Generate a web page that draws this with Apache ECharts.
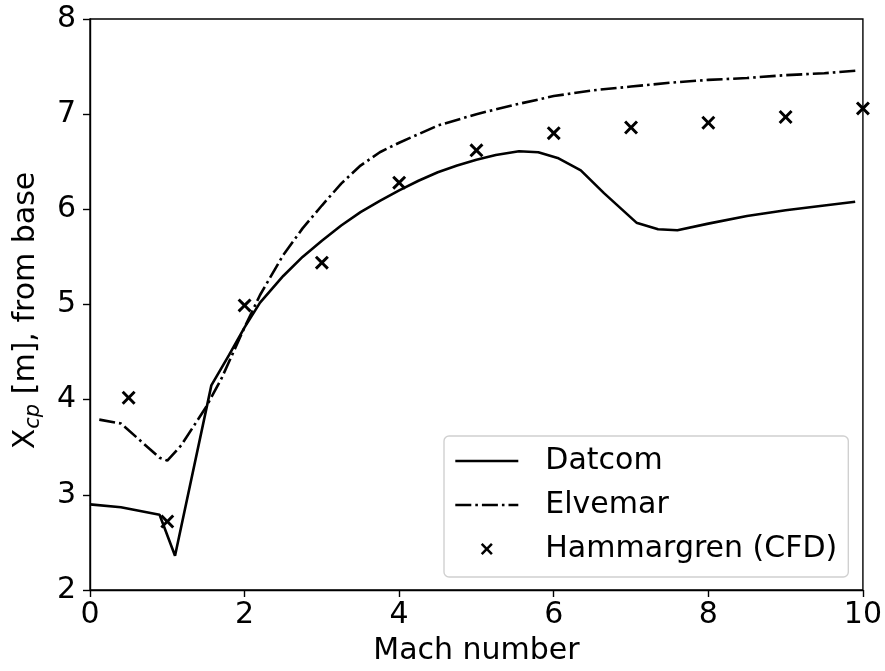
<!DOCTYPE html>
<html lang="en">
<head>
    <meta charset="UTF-8">
    <script src="https://cdn.jsdelivr.net/npm/echarts@6/dist/echarts.min.js"></script>
</head>
<body style="margin:0;">
<div id="xcpChart" style="width: 885px;height:671px;"></div>
<script type="text/javascript">

    // Mach number / Xcp pairs
    var datcom = [
        [0, 2.90], [0.4, 2.87], [0.9, 2.79], [1.1, 2.36], [1.57, 4.15],
        [1.8, 4.47], [2.0, 4.76], [2.2, 5.02], [2.5, 5.30], [2.75, 5.50],
        [3.0, 5.67], [3.25, 5.83], [3.5, 5.97], [3.75, 6.09], [4.0, 6.20],
        [4.25, 6.30], [4.5, 6.39], [4.75, 6.46], [5.0, 6.52], [5.25, 6.57],
        [5.55, 6.61], [5.8, 6.60], [6.05, 6.54], [6.35, 6.41], [6.65, 6.17],
        [7.07, 5.86], [7.35, 5.79], [7.6, 5.78], [8.0, 5.85], [8.5, 5.93],
        [9.0, 5.99], [9.5, 6.04], [9.9, 6.08]
    ];
    var elvemar = [
        [0.12, 3.79], [0.4, 3.75], [0.9, 3.39], [1.0, 3.36], [1.18, 3.52],
        [1.5, 3.92], [1.7, 4.22], [2.0, 4.76], [2.2, 5.10], [2.5, 5.52],
        [2.75, 5.80], [3.0, 6.04], [3.25, 6.27], [3.5, 6.46], [3.75, 6.60],
        [4.0, 6.70], [4.5, 6.88], [5.0, 7.00], [5.5, 7.10], [6.0, 7.19],
        [6.5, 7.25], [7.0, 7.29], [7.5, 7.33], [8.0, 7.36], [8.5, 7.38],
        [9.0, 7.41], [9.5, 7.43], [9.95, 7.46]
    ];
    var hammargren = [
        [0.5, 4.02], [1, 2.72], [2, 4.99], [3, 5.44], [4, 6.28], [5, 6.62],
        [6, 6.80], [7, 6.86], [8, 6.91], [9, 6.97], [10, 7.06]
    ];
    var seriesNames = ["Datcom", "Elvemar", "Hammargren (CFD)"];

    var crossMark = "path://M0,1.5L1.5,0L5,3.5L8.5,0L10,1.5L6.5,5L10,8.5L8.5,10L5,6.5L1.5,10L0,8.5L3.5,5Z";
    var font = "DejaVu Sans";
    var fs = 30;

    var chart = echarts.init(document.getElementById("xcpChart"));
    var option = {
        animation: false,
        textStyle: { fontFamily: font },
        grid: {
            left: 90, right: 22, top: 19, bottom: 78,
            show: true, borderColor: "#000", borderWidth: 1.4
        },
        legend: {
            orient: "vertical",
            left: 444, top: 436,
            data: [
                { name: seriesNames[0], itemStyle: { opacity: 0 } },
                { name: seriesNames[1], itemStyle: { opacity: 0 } },
                { name: seriesNames[2], icon: crossMark }
            ],
            itemWidth: 63, itemHeight: 12, itemGap: 14,
            padding: [10, 11, 13, 10],
            borderColor: "#d0d0d0", borderWidth: 1.4, borderRadius: 5,
            backgroundColor: "#fff",
            lineStyle: { width: 2.6 },
            textStyle: { fontFamily: font, fontSize: fs, color: "#000", padding: [0, 0, 0, 22] }
        },
        xAxis: {
            type: "value", min: 0, max: 10, interval: 2,
            name: "Mach number", nameLocation: "middle", nameGap: 46,
            nameTextStyle: { fontFamily: font, fontSize: fs, color: "#000" },
            axisLine: { lineStyle: { color: "#000", width: 1.4 } },
            axisTick: { length: 7, lineStyle: { color: "#000", width: 1.4 } },
            axisLabel: { margin: 10, fontSize: fs, color: "#000", fontFamily: font },
            splitLine: { show: false }
        },
        yAxis: {
            type: "value", min: 2, max: 8, interval: 1,
            name: "{x|X}{sub|cp}{x| [m], from base}", nameLocation: "middle", nameGap: 46,
            nameRotate: 90,
            nameTextStyle: {
                fontFamily: font, fontSize: fs, color: "#000", padding: [0, 12, 0, 0],
                rich: {
                    x: { fontFamily: font, fontSize: fs, color: "#000" },
                    sub: { fontFamily: font, fontSize: 21, fontStyle: "italic", color: "#000", padding: [14, 0, 0, 0] }
                }
            },
            axisLine: { lineStyle: { color: "#000", width: 1.4 } },
            axisTick: { length: 7, lineStyle: { color: "#000", width: 1.4 } },
            axisLabel: { margin: 14, fontSize: fs, color: "#000", fontFamily: font },
            splitLine: { show: false }
        },
        series: [
            {
                name: seriesNames[0], type: "line", data: datcom,
                showSymbol: false, symbol: "none",
                lineStyle: { color: "#000", width: 2.6 },
                itemStyle: { color: "#000", opacity: 0 }
            },
            {
                name: seriesNames[1], type: "line", data: elvemar,
                showSymbol: false, symbol: "none",
                lineStyle: { color: "#000", width: 2.6, type: [16, 4, 2.6, 4] },
                itemStyle: { color: "#000", opacity: 0 }
            },
            {
                name: seriesNames[2], type: "scatter", data: hammargren,
                symbol: crossMark, symbolSize: 14, symbolKeepAspect: true,
                itemStyle: { color: "#000", opacity: 1 }
            }
        ]
    };
    chart.setOption(option);
</script>
</body>
</html>
